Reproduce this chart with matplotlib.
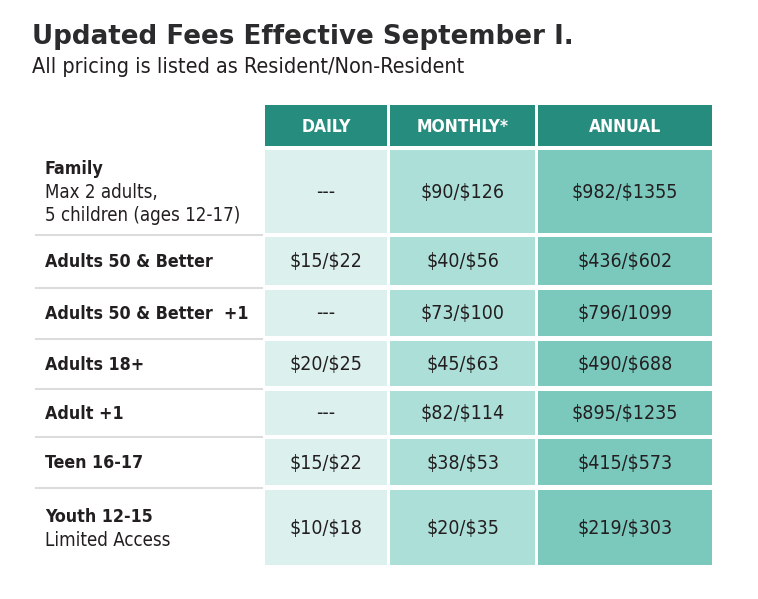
import matplotlib.pyplot as plt
from matplotlib.patches import Rectangle

plt.rcParams['text.parse_math'] = False

title = "Updated Fees Effective September I."
subtitle = "All pricing is listed as Resident/Non-Resident"

columns = ["DAILY", "MONTHLY*", "ANNUAL"]
row_names = ["Family", "Adults 50 & Better", "Adults 50 & Better  +1",
             "Adults 18+", "Adult +1", "Teen 16-17", "Youth 12-15"]
row_notes = ["Max 2 adults,\n5 children (ages 12-17)", "", "", "", "", "",
             "Limited Access"]
daily = ["---", "$15/$22", "---", "$20/$25", "---", "$15/$22", "$10/$18"]
monthly = ["$90/$126", "$40/$56", "$73/$100", "$45/$63", "$82/$114",
           "$38/$53", "$20/$35"]
annual = ["$982/$1355", "$436/$602", "$796/1099", "$490/$688", "$895/$1235",
          "$415/$573", "$219/$303"]

# layout in pixels
col_x = [(265, 387), (390, 535), (538, 712)]
row_y = [(150, 233), (237, 285), (290, 336), (341, 386), (391, 435),
         (439, 485), (490, 565)]
head_y = (105, 146)
head_color = "#268c7e"
col_colors = ["#dcf1ed", "#acdfd8", "#7bc8bd"]
dark = "#231f20"
cond = dict(family="DejaVu Sans", stretch="condensed")

fig = plt.figure(figsize=(7.58, 5.99), dpi=100)
ax = fig.add_axes([0, 0, 1, 1])
ax.set_xlim(0, 758)
ax.set_ylim(599, 0)
ax.axis("off")

ax.text(32, 37, title, fontsize=18.8, fontweight="bold", color="#2b2b2e",
        va="center", ha="left", family="DejaVu Sans")
ax.text(32, 67, subtitle, fontsize=15.5, color=dark, va="center",
        ha="left", **cond)

for (x0, x1), name in zip(col_x, columns):
    ax.add_patch(Rectangle((x0, head_y[0]), x1 - x0, head_y[1] - head_y[0],
                           color=head_color, lw=0))
    ax.text((x0 + x1) / 2, (head_y[0] + head_y[1]) / 2 + 1, name,
            fontsize=12.5, fontweight="bold", color="white",
            ha="center", va="center", **cond)

values = [daily, monthly, annual]
for i, (y0, y1) in enumerate(row_y):
    yc = (y0 + y1) / 2
    for j, (x0, x1) in enumerate(col_x):
        ax.add_patch(Rectangle((x0, y0), x1 - x0, y1 - y0,
                               color=col_colors[j], lw=0))
        ax.text((x0 + x1) / 2, yc + 1, values[j][i], fontsize=14,
                color=dark, ha="center", va="center", **cond)
    note = row_notes[i]
    n_lines = 1 + (note.count("\n") + 1 if note else 0)
    step = 23
    top = yc - step * (n_lines - 1) / 2
    ax.text(45, top + 1, row_names[i], fontsize=12.8, fontweight="bold",
            color=dark, ha="left", va="center", **cond)
    if note:
        for k, line in enumerate(note.split("\n")):
            ax.text(45, top + step * (k + 1) + 1, line, fontsize=13.4,
                    color=dark, ha="left", va="center", **cond)
    if i < len(row_y) - 1:
        sep = (y1 + row_y[i + 1][0]) / 2
        ax.plot([36, 262], [sep, sep], color="#dcdcdc", lw=1.5)

fig.savefig("out.png", dpi=100)
